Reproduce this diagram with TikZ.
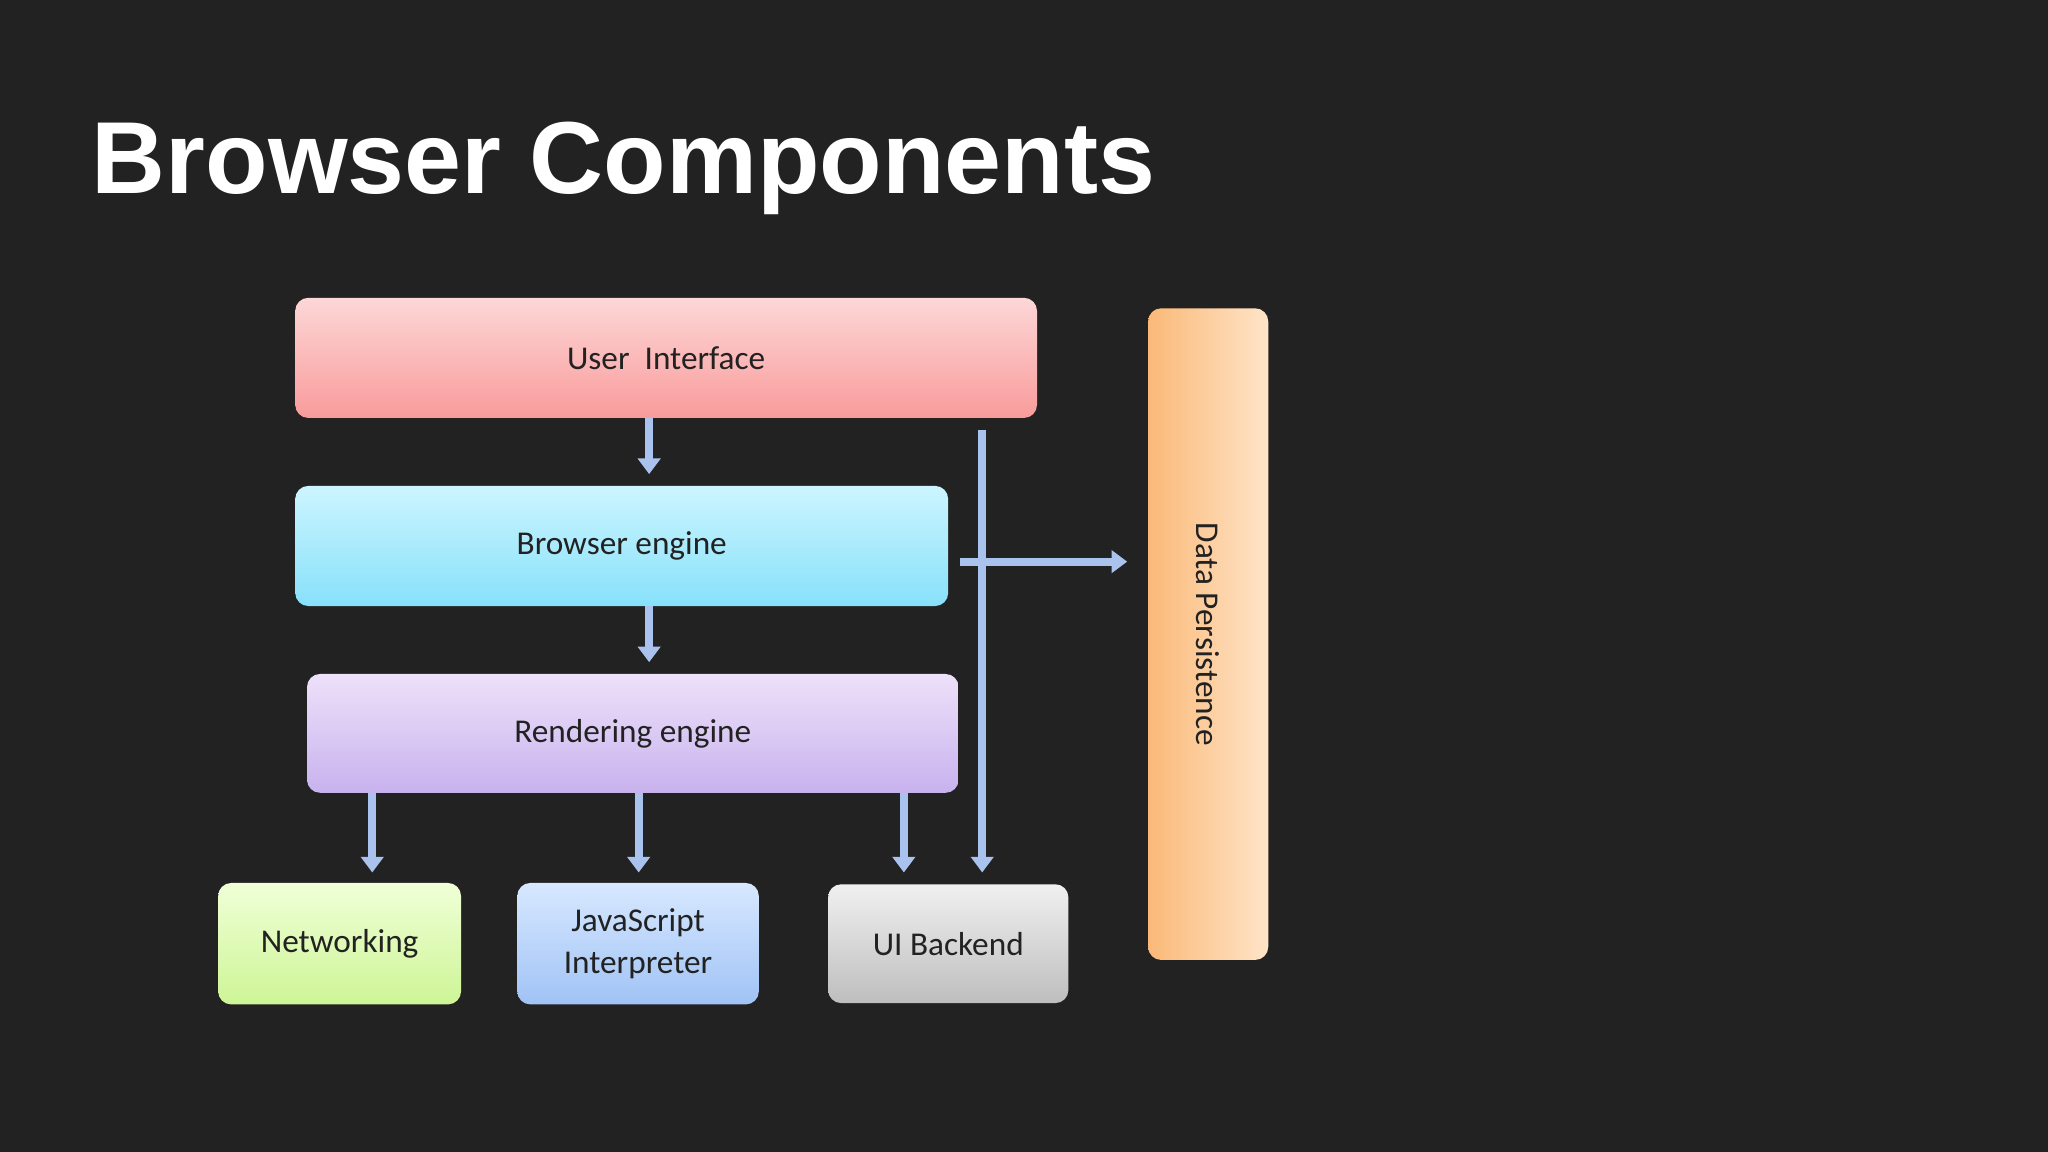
\documentclass[tikz,border=0pt]{standalone}
\usepackage{fontspec}
\setmainfont{Carlito}
\newfontfamily\titlefont{Liberation Sans}
\usetikzlibrary{arrows.meta}
\definecolor{bg}{HTML}{222222}
\definecolor{arr}{HTML}{A9C3EE}
\definecolor{txt}{HTML}{222222}
\definecolor{uiT}{RGB}{253,215,215}\definecolor{uiB}{RGB}{250,155,155}
\definecolor{beT}{RGB}{205,245,255}\definecolor{beB}{RGB}{135,225,250}
\definecolor{reT}{RGB}{238,225,250}\definecolor{reB}{RGB}{200,178,238}
\definecolor{ntT}{RGB}{240,255,215}\definecolor{ntB}{RGB}{205,245,150}
\definecolor{jsT}{RGB}{215,232,255}\definecolor{jsB}{RGB}{160,195,245}
\definecolor{ubT}{RGB}{240,240,240}\definecolor{ubB}{RGB}{190,190,190}
\definecolor{dpL}{RGB}{250,185,120}\definecolor{dpR}{RGB}{255,228,200}
\tikzset{
  box/.style={rounded corners=0.2cm, inner sep=0pt, font=\fontsize{14.5}{18}\selectfont, text=txt, align=center},
  flow/.style={draw=arr, line width=0.12cm, -{Triangle[length=0.24cm,width=0.34cm]}}
}
\begin{document}
\begin{tikzpicture}[x=0.02cm,y=-0.02cm]
\fill[bg] (0,0) rectangle (1568,882);
\useasboundingbox (0,0) rectangle (1568,882);
\node[anchor=base west, text=white, font=\titlefont\bfseries\fontsize{44.6}{52}\selectfont, inner sep=0pt] (title) at (70,148) {Browser Components};

\node[box, minimum width=11.36cm, minimum height=1.84cm, top color=uiT, bottom color=uiB] (ui) at (510,274) {User\ \ Interface};
\node[box, minimum width=10cm, minimum height=1.84cm, top color=beT, bottom color=beB] (be) at (476,418) {Browser engine};
\node[box, minimum width=9.98cm, minimum height=1.82cm, top color=reT, bottom color=reB] (re) at (484.5,561.5) {Rendering engine};
\node[box, minimum width=3.72cm, minimum height=1.86cm, top color=ntT, bottom color=ntB] (net) at (260,722.5) {Networking};
\node[box, minimum width=3.7cm, minimum height=1.86cm, top color=jsT, bottom color=jsB] (js) at (488.5,722.5) {JavaScript\\Interpreter};
\node[box, minimum width=3.68cm, minimum height=1.82cm, top color=ubT, bottom color=ubB] (uib) at (726,722.5) {UI Backend};
\node[box, minimum width=1.84cm, minimum height=9.98cm, left color=dpL, right color=dpR] (dp) at (925,485.5) {};
\node[rotate=-90, font=\fontsize{14.5}{18}\selectfont, text=txt] (dpl) at (dp.center) {Data Persistence};

\coordinate (a1) at (497,320); \coordinate (a2) at (497,363);
\coordinate (b1) at (497,464); \coordinate (b2) at (497,507);
\coordinate (n1) at (285,607); \coordinate (n2) at (285,668);
\coordinate (j1) at (489,607); \coordinate (j2) at (489,668);
\coordinate (u1) at (692,607); \coordinate (u2) at (692,668);
\coordinate (v1) at (752,329); \coordinate (v2) at (752,668);
\coordinate (h1) at (735,430); \coordinate (h2) at (863,430);
\draw[flow] (a1) -- (a2);
\draw[flow] (b1) -- (b2);
\draw[flow] (n1) -- (n2);
\draw[flow] (j1) -- (j2);
\draw[flow] (u1) -- (u2);
\draw[flow] (v1) -- (v2);
\draw[flow] (h1) -- (h2);
\end{tikzpicture}
\end{document}
